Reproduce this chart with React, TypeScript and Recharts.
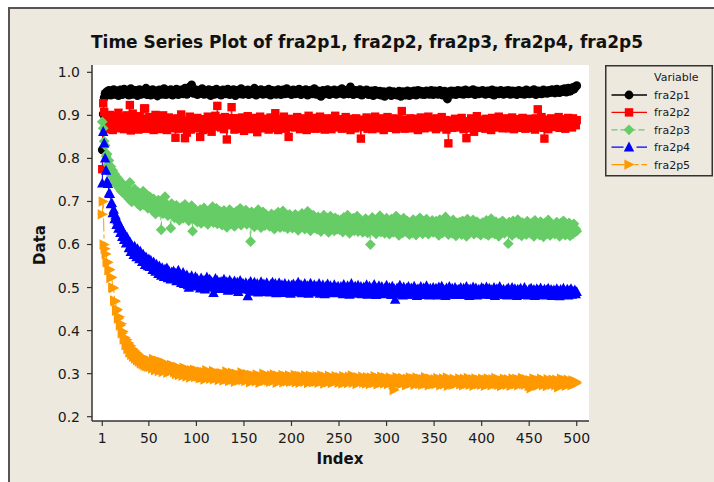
import React from 'react';
import { LineChart, Line, XAxis, YAxis, Legend, CartesianGrid } from 'recharts';

// Axis ticks
const indexTicks = [1, 50, 100, 150, 200, 250, 300, 350, 400, 450, 500];
const dataTicks = [0.2, 0.3, 0.4, 0.5, 0.6, 0.7, 0.8, 0.9, 1.0];

// Series values, stored in thousandths (index 1..500)
const fra2p1 = [
  820, 903, 941, 951, 948, 955, 950, 958, 953, 947, 956, 952, 960, 949, 954, 957, 951, 946, 955, 959, 952, 948, 956, 961, 953,
  950, 957, 954, 947, 955, 962, 951, 949, 956, 953, 958, 950, 946, 954, 960, 955, 949, 952, 957, 951, 955, 963, 948, 953, 956,
  952, 947, 955, 960, 954, 950, 957, 953, 945, 956, 959, 951, 954, 949, 957, 962, 953, 948, 955, 958, 950, 954, 960, 952, 947,
  955, 957, 951, 961, 953, 948, 956, 952, 959, 954, 950, 957, 963, 955, 949, 953, 958, 966, 954, 971, 957, 951, 955, 960, 952,
  948, 954, 958, 951, 956, 962, 953, 949, 955, 957, 950, 954, 960, 952, 946, 955, 958, 953, 949, 956, 961, 954, 950, 957, 953,
  947, 955, 959, 952, 956, 950, 954, 961, 953, 948, 957, 952, 955, 960, 951, 946, 954, 958, 953, 956, 950, 962, 955, 949, 953,
  957, 951, 955, 959, 948, 954, 957, 952, 950, 956, 963, 953, 947, 955, 958, 951, 954, 960, 952, 949, 956, 953, 958, 950, 955,
  961, 952, 947, 954, 958, 951, 956, 953, 949, 957, 960, 952, 955, 948, 954, 959, 953, 950, 956, 962, 951, 954, 957, 952, 948,
  955, 959, 953, 950, 956, 952, 958, 961, 954, 948, 953, 957, 951, 955, 960, 952, 947, 954, 958, 953, 956, 950, 955, 962, 953,
  949, 954, 957, 951, 953, 944, 955, 958, 952, 956, 950, 954, 960, 953, 948, 955, 957, 951, 954, 959, 952, 949, 956, 953, 958,
  951, 955, 962, 953, 949, 956, 952, 958, 954, 950, 955, 966, 957, 952, 948, 954, 958, 953, 956, 950, 955, 960, 952, 947, 953,
  957, 951, 954, 959, 953, 948, 955, 952, 957, 950, 946, 953, 958, 951, 955, 949, 952, 956, 947, 953, 950, 955, 944, 951, 954,
  949, 953, 957, 950, 946, 952, 955, 948, 954, 951, 947, 953, 956, 950, 944, 952, 955, 949, 953, 947, 951, 957, 950, 946, 953,
  955, 949, 952, 957, 951, 947, 954, 958, 950, 953, 956, 949, 952, 955, 948, 954, 957, 951, 953, 949, 955, 958, 952, 948, 954,
  957, 951, 955, 949, 953, 958, 950, 954, 947, 952, 956, 951, 954, 938, 950, 955, 952, 957, 949, 953, 956, 951, 948, 955, 958,
  952, 955, 950, 957, 953, 949, 955, 959, 952, 956, 950, 953, 957, 951, 955, 960, 952, 948, 954, 957, 953, 950, 956, 952, 955,
  958, 951, 954, 949, 956, 952, 957, 953, 950, 955, 959, 952, 947, 954, 957, 951, 955, 950, 953, 958, 952, 955, 949, 954, 957,
  951, 954, 958, 952, 949, 955, 957, 950, 953, 956, 951, 948, 954, 958, 952, 955, 950, 956, 953, 949, 955, 959, 952, 956, 950,
  954, 957, 951, 955, 960, 952, 948, 954, 957, 951, 956, 953, 950, 955, 959, 952, 954, 957, 951, 955, 958, 953, 956, 960, 954,
  958, 952, 956, 961, 954, 957, 953, 959, 955, 960, 956, 962, 957, 954, 960, 963, 958, 956, 962, 959, 965, 961, 964, 967, 969,
];

const fra2p2 = [
  775, 928, 908, 876, 895, 868, 887, 880, 901, 872, 890, 866, 884, 898, 875, 893, 870, 906, 882, 888, 873, 897, 879, 868, 891,
  884, 900, 872, 889, 924, 865, 893, 904, 876, 886, 871, 895, 880, 867, 898, 883, 874, 890, 877, 916, 916, 869, 892, 880, 875,
  896, 871, 884, 889, 866, 878, 901, 880, 873, 893, 884, 868, 887, 877, 900, 872, 890, 881, 866, 886, 895, 876, 882, 870, 891,
  879, 887, 848, 884, 893, 869, 889, 876, 902, 880, 871, 886, 847, 874, 860, 888, 879, 897, 867, 884, 879, 891, 872, 885, 876,
  894, 870, 883, 850, 877, 888, 866, 884, 891, 873, 881, 897, 869, 886, 878, 862, 891, 874, 884, 899, 876, 922, 887, 881, 893,
  872, 885, 880, 868, 896, 883, 844, 890, 877, 893, 886, 919, 882, 893, 867, 879, 888, 875, 893, 869, 884, 876, 895, 880, 864,
  889, 876, 884, 898, 871, 882, 890, 868, 879, 894, 882, 873, 887, 861, 884, 876, 897, 880, 870, 886, 878, 892, 874, 883, 889,
  867, 881, 895, 876, 884, 870, 889, 905, 874, 881, 866, 891, 877, 885, 880, 872, 897, 884, 869, 888, 876, 850, 883, 892, 873,
  886, 878, 890, 872, 882, 896, 875, 884, 868, 889, 879, 893, 874, 881, 887, 866, 878, 899, 884, 871, 889, 877, 883, 894, 869,
  880, 888, 873, 885, 897, 870, 882, 876, 890, 867, 884, 879, 893, 874, 886, 881, 868, 892, 878, 884, 899, 872, 886, 875, 889,
  876, 883, 869, 891, 880, 874, 896, 885, 871, 888, 878, 866, 884, 892, 877, 885, 870, 893, 882, 874, 888, 879, 846, 884, 890,
  873, 887, 880, 895, 869, 884, 876, 891, 882, 868, 886, 879, 897, 873, 883, 888, 870, 885, 877, 893, 881, 866, 889, 876, 884,
  896, 874, 882, 889, 871, 880, 893, 877, 885, 868, 891, 879, 884, 872, 887, 910, 876, 883, 869, 890, 882, 875, 886, 879, 893,
  870, 884, 877, 892, 881, 873, 888, 866, 884, 878, 895, 873, 886, 880, 870, 889, 877, 884, 897, 872, 881, 887, 874, 891, 879,
  884, 868, 893, 878, 886, 874, 881, 896, 872, 884, 877, 889, 867, 883, 835, 876, 888, 880, 871, 886, 879, 892, 874, 885, 880,
  872, 889, 881, 894, 876, 868, 885, 879, 847, 874, 886, 881, 870, 893, 877, 884, 862, 888, 876, 898, 883, 871, 886, 880, 875,
  890, 877, 884, 869, 892, 881, 874, 888, 879, 866, 894, 883, 876, 889, 872, 885, 880, 897, 873, 882, 888, 870, 884, 878, 893,
  875, 887, 881, 870, 889, 877, 895, 884, 868, 886, 879, 891, 874, 883, 888, 871, 881, 894, 877, 886, 869, 884, 880, 892, 876,
  883, 871, 889, 878, 886, 867, 893, 881, 914, 888, 874, 885, 896, 879, 871, 846, 882, 875, 890, 868, 884, 879, 893, 877, 886,
  880, 873, 889, 877, 884, 896, 871, 886, 880, 874, 891, 883, 869, 887, 878, 894, 881, 875, 889, 872, 893, 880, 886, 877, 889,
];

const fra2p3 = [
  885, 870, 840, 830, 805, 810, 785, 795, 770, 781, 760, 772, 750, 764, 741, 757, 737, 752, 730, 746, 724, 741, 720, 737, 716,
  731, 712, 728, 706, 744, 717, 699, 724, 708, 729, 702, 716, 695, 721, 707, 689, 714, 700, 724, 692, 709, 697, 715, 684, 703,
  711, 686, 700, 679, 706, 690, 671, 698, 683, 703, 676, 694, 634, 688, 672, 699, 711, 681, 693, 667, 689, 678, 638, 695, 670,
  685, 662, 679, 691, 668, 675, 656, 684, 670, 688, 661, 677, 693, 664, 672, 683, 655, 679, 669, 690, 631, 673, 659, 681, 667,
  652, 676, 663, 681, 649, 670, 658, 685, 654, 667, 676, 647, 662, 679, 656, 672, 688, 651, 666, 659, 684, 648, 671, 662, 677,
  668, 645, 661, 679, 652, 672, 640, 664, 657, 681, 648, 669, 655, 673, 642, 666, 677, 650, 663, 658, 684, 645, 670, 653, 667,
  661, 680, 647, 670, 655, 662, 607, 676, 649, 664, 641, 672, 658, 650, 681, 645, 667, 639, 663, 676, 652, 644, 670, 657, 648,
  664, 642, 658, 671, 647, 660, 636, 669, 653, 644, 675, 650, 639, 662, 655, 678, 641, 659, 648, 668, 637, 657, 670, 645, 661,
  638, 662, 649, 670, 643, 655, 633, 666, 651, 640, 672, 646, 659, 636, 663, 649, 677, 641, 654, 632, 661, 648, 668, 639, 657,
  651, 635, 664, 642, 656, 630, 659, 646, 668, 637, 653, 641, 661, 628, 650, 666, 638, 655, 644, 632, 662, 647, 635, 658, 641,
  634, 657, 645, 629, 663, 640, 652, 636, 668, 643, 626, 655, 648, 639, 661, 632, 650, 644, 666, 630, 657, 641, 637, 654, 628,
  649, 633, 660, 641, 627, 655, 638, 600, 646, 663, 631, 652, 640, 625, 658, 644, 635, 667, 629, 650, 638, 656, 626, 645, 661,
  632, 651, 624, 645, 659, 636, 628, 653, 642, 666, 630, 647, 621, 657, 639, 649, 627, 661, 635, 644, 629, 654, 640, 623, 650,
  643, 627, 658, 636, 648, 622, 655, 640, 630, 662, 634, 646, 625, 652, 641, 631, 659, 637, 624, 650, 644, 633, 656, 628, 647,
  638, 654, 629, 646, 621, 658, 635, 643, 627, 651, 640, 664, 630, 645, 623, 653, 636, 648, 626, 657, 633, 642, 620, 650, 639,
  628, 652, 637, 623, 655, 641, 630, 647, 619, 659, 636, 626, 650, 642, 631, 657, 624, 645, 635, 653, 627, 640, 648, 622, 644,
  651, 629, 643, 625, 656, 637, 621, 648, 634, 660, 627, 645, 638, 624, 653, 632, 641, 619, 650, 636, 628, 655, 640, 626, 647,
  633, 645, 602, 652, 629, 640, 621, 655, 636, 627, 648, 631, 658, 624, 643, 635, 620, 651, 638, 628, 646, 623, 654, 637, 630,
  642, 625, 650, 634, 619, 656, 638, 627, 645, 632, 622, 653, 636, 641, 618, 649, 630, 644, 626, 657, 633, 621, 647, 639, 628,
  645, 624, 637, 652, 628, 641, 619, 649, 633, 626, 655, 631, 622, 646, 638, 627, 650, 620, 643, 634, 625, 648, 629, 636, 631,
];

const fra2p4 = [
  742, 862, 835, 800, 772, 746, 741, 719, 718, 694, 697, 673, 681, 659, 668, 646, 656, 637, 647, 627, 638, 618, 630, 611, 622,
  603, 617, 608, 592, 606, 583, 598, 590, 576, 596, 585, 571, 590, 578, 566, 584, 571, 560, 577, 568, 553, 571, 559, 550, 566,
  548, 563, 555, 541, 559, 547, 537, 554, 543, 532, 550, 540, 528, 546, 537, 525, 543, 534, 545, 522, 539, 530, 519, 536, 527,
  538, 521, 533, 515, 527, 540, 518, 530, 511, 524, 535, 509, 526, 517, 529, 506, 500, 522, 513, 527, 505, 519, 512, 525, 503,
  520, 507, 515, 498, 522, 510, 503, 517, 496, 513, 524, 505, 509, 519, 500, 514, 507, 488, 511, 521, 499, 516, 506, 512, 497,
  514, 500, 509, 519, 497, 506, 513, 493, 508, 517, 499, 511, 503, 494, 515, 505, 498, 512, 490, 507, 516, 501, 496, 510, 503,
  497, 511, 502, 480, 508, 495, 514, 500, 491, 506, 512, 494, 503, 509, 489, 505, 498, 513, 493, 501, 508, 490, 504, 511, 496,
  502, 489, 507, 497, 512, 493, 500, 509, 487, 504, 495, 511, 498, 490, 506, 501, 488, 509, 496, 503, 491, 507, 499, 486, 505,
  494, 508, 497, 489, 505, 500, 512, 492, 498, 506, 487, 503, 495, 509, 491, 500, 504, 486, 497, 510, 493, 501, 489, 506, 496,
  503, 490, 498, 509, 486, 501, 494, 506, 492, 485, 502, 497, 508, 489, 495, 504, 491, 499, 487, 506, 494, 500, 488, 503, 493,
  489, 502, 496, 485, 507, 493, 499, 488, 504, 495, 484, 500, 509, 491, 497, 486, 503, 494, 490, 505, 488, 498, 502, 485, 496,
  501, 490, 497, 506, 484, 495, 503, 489, 492, 500, 486, 507, 494, 483, 499, 491, 504, 487, 496, 502, 485, 493, 498, 488, 505,
  492, 486, 500, 495, 483, 503, 490, 497, 472, 488, 499, 485, 494, 505, 489, 496, 482, 501, 491, 487, 498, 484, 502, 493, 489,
  499, 484, 493, 503, 488, 495, 481, 497, 490, 486, 502, 492, 483, 499, 494, 487, 504, 489, 496, 482, 498, 491, 485, 500, 493,
  487, 498, 491, 482, 501, 494, 488, 503, 485, 496, 492, 481, 499, 489, 495, 502, 484, 493, 498, 486, 490, 500, 483, 495, 491,
  496, 485, 500, 490, 483, 498, 492, 486, 502, 489, 495, 481, 497, 493, 487, 501, 484, 494, 499, 482, 491, 496, 488, 485, 500,
  489, 497, 484, 494, 501, 487, 492, 498, 483, 495, 490, 486, 500, 481, 493, 497, 488, 491, 502, 485, 494, 489, 496, 483, 490,
  495, 482, 499, 488, 493, 485, 500, 490, 484, 497, 492, 481, 496, 489, 494, 498, 483, 491, 487, 500, 485, 493, 489, 482, 496,
  488, 498, 484, 492, 495, 481, 490, 497, 486, 493, 483, 499, 489, 492, 485, 496, 482, 494, 490, 498, 484, 487, 495, 481, 492,
  494, 483, 489, 497, 485, 492, 480, 495, 488, 491, 498, 484, 490, 486, 496, 482, 493, 489, 497, 484, 491, 487, 494, 485, 490,
];

const fra2p5 = [
  670, 700, 600, 590, 578, 560, 558, 540, 542, 522, 524, 500, 499, 470, 468, 446, 449, 428, 432, 412, 416, 394, 398, 379, 384,
  366, 379, 357, 371, 349, 365, 344, 358, 339, 354, 335, 349, 331, 345, 328, 341, 324, 338, 322, 336, 319, 333, 317, 331, 316,
  331, 316, 327, 312, 334, 319, 308, 326, 315, 330, 306, 322, 313, 327, 304, 319, 325, 310, 321, 302, 317, 314, 305, 320, 309,
  318, 304, 313, 299, 316, 307, 297, 312, 302, 309, 295, 314, 301, 306, 293, 310, 298, 305, 291, 308, 300, 296, 309, 292, 304,
  307, 293, 302, 289, 305, 297, 291, 304, 286, 299, 308, 292, 295, 303, 288, 300, 294, 306, 287, 298, 302, 290, 297, 285, 301,
  289, 301, 294, 284, 299, 291, 305, 287, 296, 283, 298, 292, 302, 286, 293, 281, 300, 290, 295, 284, 297, 288, 303, 285, 292,
  296, 283, 291, 299, 286, 293, 280, 297, 288, 284, 295, 290, 282, 298, 287, 293, 279, 294, 289, 285, 300, 283, 291, 287, 296,
  284, 292, 281, 296, 288, 283, 298, 286, 290, 279, 295, 287, 282, 293, 289, 297, 280, 291, 285, 294, 282, 288, 296, 281, 290,
  293, 282, 289, 297, 280, 291, 286, 295, 279, 288, 294, 283, 290, 281, 296, 285, 292, 278, 289, 295, 284, 287, 280, 293, 286,
  281, 294, 287, 279, 292, 284, 296, 282, 289, 277, 293, 285, 290, 280, 295, 283, 288, 278, 291, 286, 281, 294, 284, 289, 279,
  292, 283, 289, 277, 294, 285, 280, 291, 286, 278, 293, 282, 288, 296, 279, 287, 283, 290, 276, 292, 284, 280, 289, 285, 293,
  279, 290, 284, 277, 292, 282, 287, 276, 291, 283, 289, 278, 294, 281, 286, 275, 290, 284, 279, 293, 280, 287, 277, 291, 283,
  288, 276, 283, 291, 279, 286, 274, 262, 287, 281, 292, 277, 284, 289, 275, 283, 290, 278, 285, 280, 273, 288, 282, 279, 291,
  277, 286, 280, 289, 274, 284, 291, 278, 282, 276, 288, 281, 274, 287, 283, 292, 277, 285, 279, 273, 289, 282, 286, 275, 281,
  287, 276, 283, 290, 278, 281, 273, 286, 280, 289, 275, 284, 279, 291, 272, 282, 287, 277, 284, 274, 288, 280, 276, 285, 279,
  283, 289, 275, 281, 286, 273, 288, 279, 284, 276, 290, 281, 274, 285, 278, 287, 272, 283, 289, 277, 281, 275, 286, 280, 274,
  288, 277, 284, 272, 286, 279, 289, 275, 281, 285, 273, 287, 278, 283, 290, 276, 280, 274, 286, 282, 271, 284, 279, 288, 276,
  282, 274, 287, 279, 285, 272, 283, 289, 277, 281, 275, 288, 280, 273, 286, 278, 284, 290, 276, 281, 274, 287, 279, 283, 271,
  285, 266, 283, 277, 289, 274, 281, 286, 272, 279, 284, 276, 288, 280, 273, 285, 278, 282, 271, 287, 276, 283, 279, 274, 286,
  277, 284, 273, 286, 279, 268, 283, 276, 288, 274, 281, 277, 285, 272, 280, 286, 275, 282, 278, 273, 284, 279, 276, 282, 278,
];

type Shape = 'circle' | 'square' | 'diamond' | 'triangle' | 'arrow';

interface SeriesStyle {
  key: string;
  color: string;
  shape: Shape;
  dash?: string;
}

const seriesStyles: SeriesStyle[] = [
  { key: 'fra2p1', color: '#000000', shape: 'circle' },
  { key: 'fra2p2', color: '#FF0000', shape: 'square' },
  { key: 'fra2p3', color: '#66CC66', shape: 'diamond', dash: '6 3' },
  { key: 'fra2p4', color: '#0000FF', shape: 'triangle', dash: '12 5 3 5' },
  { key: 'fra2p5', color: '#FF9900', shape: 'arrow', dash: '13 3 4 3 4 3' },
];

const seriesValues: Record<string, number[]> = { fra2p1, fra2p2, fra2p3, fra2p4, fra2p5 };

const rows = fra2p1.map((_, i) => {
  const row: Record<string, number> = { index: i + 1 };
  for (const s of seriesStyles) {
    const v = seriesValues[s.key][i];
    if (v !== undefined) row[s.key] = v / 1000;
  }
  return row;
});

const FONT = '"DejaVu Sans", Verdana, sans-serif';
const PANEL = '#EDE9DF';
const INK = '#1a1a1a';
const FRAME = '#333333';

function Marker({ shape, x, y, color }: { shape: Shape; x: number; y: number; color: string }) {
  switch (shape) {
    case 'circle':
      return <circle cx={x} cy={y} r={4.4} fill={color} />;
    case 'square':
      return <rect x={x - 4.2} y={y - 4.2} width={8.4} height={8.4} fill={color} />;
    case 'diamond':
      return <polygon points={`${x},${y - 5.4} ${x + 5.4},${y} ${x},${y + 5.4} ${x - 5.4},${y}`} fill={color} />;
    case 'triangle':
      return <polygon points={`${x},${y - 5.6} ${x + 5.2},${y + 4.2} ${x - 5.2},${y + 4.2}`} fill={color} />;
    case 'arrow':
    default:
      return <polygon points={`${x + 5.6},${y} ${x - 4.6},${y - 5.2} ${x - 4.6},${y + 5.2}`} fill={color} />;
  }
}

function LegendBox() {
  return (
    <svg width={109} height={112} style={{ display: 'block' }}>
      <rect x={0.75} y={0.75} width={106.5} height={110} fill={PANEL} stroke={FRAME} strokeWidth={1.5} />
      <text x={49} y={16} fontSize={11} fontFamily={FONT} fill={INK}>Variable</text>
      {seriesStyles.map((s, k) => {
        const cy = 30 + k * 17.4;
        return (
          <g key={s.key}>
            <line x1={6.5} x2={42} y1={cy} y2={cy} stroke={s.color} strokeWidth={1.3} strokeDasharray={s.dash} />
            <Marker shape={s.shape} x={24} y={cy} color={s.color} />
            <text x={49} y={cy + 4} fontSize={11} fontFamily={FONT} fill={INK}>{s.key}</text>
          </g>
        );
      })}
    </svg>
  );
}

const tickStyle = { fontFamily: FONT, fontSize: 14, fill: INK };

export default function App() {
  return (
    <div style={{ position: 'absolute', left: 0, top: 0, width: 714, height: 482, background: '#ffffff', overflow: 'hidden' }}>
      <div
        style={{
          position: 'absolute',
          left: 8,
          top: 7,
          width: 720,
          height: 490,
          background: PANEL,
          borderLeft: '2px solid #555',
          borderTop: '2px solid #555',
        }}
      />
      <div style={{ position: 'absolute', left: 0, top: 0 }}>
        <LineChart width={714} height={482} data={rows} margin={{ top: 65, right: 125, left: 0, bottom: 0 }}>
          <CartesianGrid horizontal={false} vertical={false} fill="#ffffff" stroke="none" />
          <XAxis
            dataKey="index"
            type="number"
            domain={[-9.8, 512.9]}
            ticks={indexTicks}
            interval={0}
            height={61}
            tickSize={5}
            tickMargin={7}
            tick={tickStyle}
            axisLine={{ stroke: FRAME, strokeWidth: 1.5 }}
            tickLine={{ stroke: FRAME, strokeWidth: 1.2 }}
          />
          <XAxis
            xAxisId="top"
            orientation="top"
            type="number"
            domain={[-9.8, 512.9]}
            height={0}
            tick={false}
            tickLine={false}
            axisLine={{ stroke: FRAME, strokeWidth: 1.5 }}
          />
          <YAxis
            type="number"
            domain={[0.19, 1.017]}
            ticks={dataTicks}
            interval={0}
            width={92}
            tickSize={5}
            tickMargin={7}
            tick={tickStyle}
            tickFormatter={(v: number) => v.toFixed(1)}
            axisLine={{ stroke: FRAME, strokeWidth: 1.5 }}
            tickLine={{ stroke: FRAME, strokeWidth: 1.2 }}
          />
          <YAxis
            yAxisId="right"
            orientation="right"
            type="number"
            domain={[0.19, 1.017]}
            width={0}
            tick={false}
            tickLine={false}
            axisLine={{ stroke: FRAME, strokeWidth: 1.5 }}
          />
          {seriesStyles.map((s) => (
            <Line
              key={s.key}
              dataKey={s.key}
              name={s.key}
              type="linear"
              stroke={s.color}
              strokeWidth={1}
              strokeDasharray={s.dash}
              isAnimationActive={false}
              activeDot={false}
              dot={(p: any) => (
                <Marker key={`${s.key}-${p.index}`} shape={s.shape} x={p.cx} y={p.cy} color={s.color} />
              )}
            />
          ))}
          <Legend
            layout="vertical"
            align="center"
            verticalAlign="middle"
            wrapperStyle={{ position: 'absolute', left: 605, top: 65, width: 109, height: 112, margin: 0, padding: 0 }}
            content={() => <LegendBox />}
          />
        </LineChart>
      </div>
      <svg width={714} height={482} style={{ position: 'absolute', left: 0, top: 0, pointerEvents: 'none' }}>
        <text x={367} y={48} textAnchor="middle" fontFamily={FONT} fontWeight={700} fontSize={17} fill="#111">
          Time Series Plot of fra2p1, fra2p2, fra2p3, fra2p4, fra2p5
        </text>
        <text x={340} y={464} textAnchor="middle" fontFamily={FONT} fontWeight={700} fontSize={15} fill="#111">
          Index
        </text>
        <text
          x={0}
          y={0}
          transform="translate(45 245) rotate(-90)"
          textAnchor="middle"
          fontFamily={FONT}
          fontWeight={700}
          fontSize={15}
          fill="#111"
        >
          Data
        </text>
      </svg>
    </div>
  );
}
